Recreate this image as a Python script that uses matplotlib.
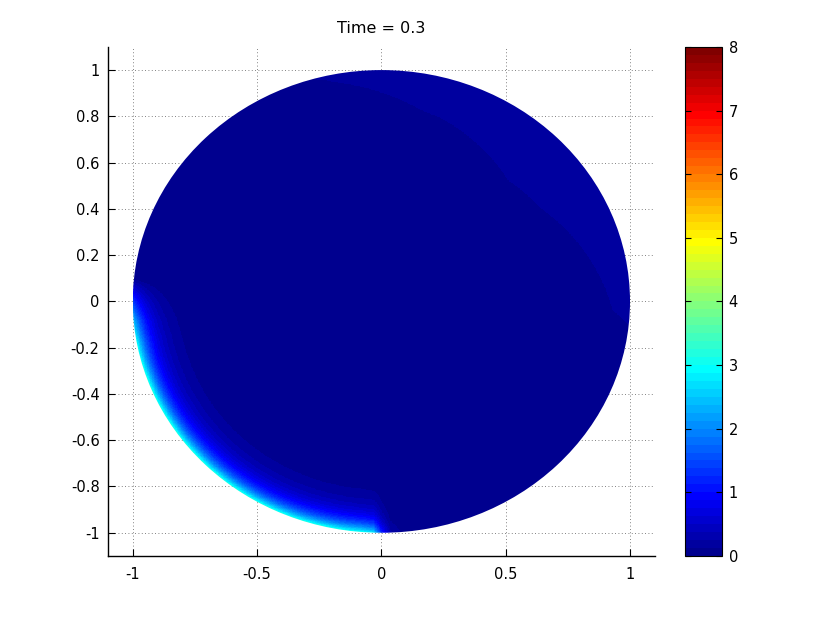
import numpy as np
import matplotlib
matplotlib.use('Agg')
import matplotlib.pyplot as plt
from matplotlib.colors import ListedColormap
from matplotlib.patches import Circle

plt.rcParams['font.family'] = ['DejaVu Sans']

title = 'Time = 0.3'
xticks = [-1, -0.5, 0, 0.5, 1]
yticks = [-1, -0.8, -0.6, -0.4, -0.2, 0, 0.2, 0.4, 0.6, 0.8, 1]
cbar_ticks = [0, 1, 2, 3, 4, 5, 6, 7, 8]

# hot boundary layer along the lower-left rim (angle in degrees, value on the rim)
edge_angle = [174, 180, 185, 190, 200, 230, 255, 265, 268, 270, 272, 276]
edge_value = [0.0, 1.4, 2.4, 2.9, 3.05, 3.1, 3.1, 3.05, 2.8, 1.2, 0.3, 0.0]
band_depth = 0.058

# weak front in the upper-right (angle in degrees, radius of the front)
front_angle = [-6, -2.4, 32.2, 45.9, 73.3, 79.2, 99.7, 106]
front_radius = [1.0, 0.929, 0.755, 0.729, 0.827, 0.842, 0.958, 1.0]
front_value = 0.19

# MATLAB jet(64)
idx = np.arange(64)
anchors = [0, 7, 23, 39, 55, 63]
r = np.interp(idx, anchors, [0, 0, 0, 1, 1, 0.5])
g = np.interp(idx, anchors, [0, 0, 1, 1, 0, 0])
b = np.interp(idx, anchors, [0.5625, 1, 1, 0, 0, 0])
jet64 = ListedColormap(np.column_stack([r, g, b]))

# field on the disk
n = 801
xs = np.linspace(-1, 1, n)
X, Y = np.meshgrid(xs, xs)
R = np.hypot(X, Y)
th = np.degrees(np.arctan2(Y, X))
th360 = th % 360
U = np.interp(th360, edge_angle, edge_value, left=0, right=0) * np.exp(-(1 - R) / band_depth)
front = np.interp(th, front_angle, front_radius, left=2, right=2)
U = np.maximum(U, np.where(R > front, front_value, 0))

fig = plt.figure(figsize=(8.3, 6.26), dpi=100)
ax = fig.add_axes([0.130, 0.112, 0.659, 0.813])
im = ax.imshow(U, origin='lower', extent=(-1, 1, -1, 1), cmap=jet64,
               vmin=0, vmax=8, aspect='auto', interpolation='nearest', zorder=2)
im.set_clip_path(Circle((0, 0), 1, transform=ax.transData))

ax.set_xlim(-1.1, 1.1)
ax.set_ylim(-1.1, 1.1)
ax.set_xticks(xticks)
ax.set_xticklabels(['-1', '-0.5', '0', '0.5', '1'])
ax.set_yticks(yticks)
ax.set_yticklabels(['-1', '-0.8', '-0.6', '-0.4', '-0.2', '0', '0.2', '0.4', '0.6', '0.8', '1'])
ax.grid(True, color='0.35', linestyle=(0, (1, 3)), linewidth=0.6)
ax.set_axisbelow(True)
for s in ['top', 'right']:
    ax.spines[s].set_visible(False)
for s in ['left', 'bottom']:
    ax.spines[s].set_linewidth(1.0)
ax.tick_params(direction='in', length=5, labelsize=10.5)
ax.tick_params(axis='y', pad=6)
ax.tick_params(axis='x', pad=8)
ax.set_title(title, fontsize=11.5, pad=10)

cax = fig.add_axes([0.825, 0.112, 0.0446, 0.813])
cb = fig.colorbar(im, cax=cax, ticks=cbar_ticks)
cb.outline.set_linewidth(0.8)
cax.tick_params(direction='in', length=4, labelsize=10.5, left=True, right=True, pad=5)

fig.savefig('out.png', dpi=100)
